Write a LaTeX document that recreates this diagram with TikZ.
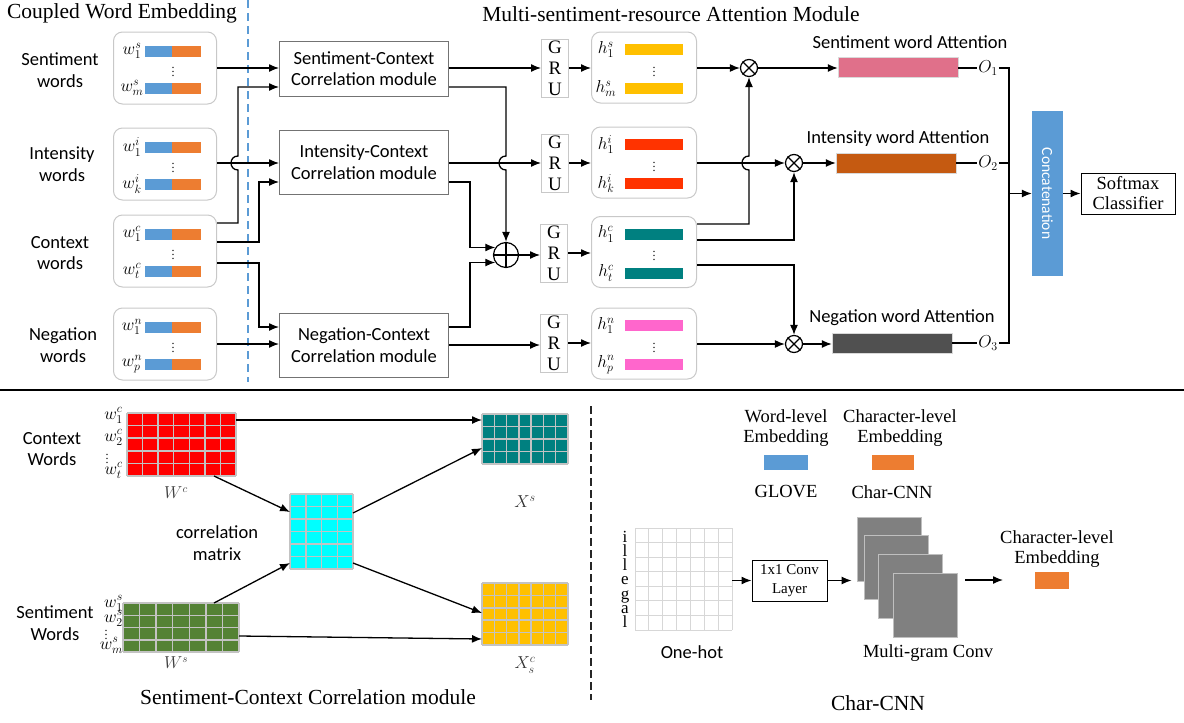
\documentclass[tikz,border=0pt]{standalone}
\usepackage{fontspec}
\setmainfont{Liberation Serif}
\setsansfont{Carlito}
\usetikzlibrary{arrows.meta,calc}
\definecolor{wblue}{RGB}{91,155,213}
\definecolor{worange}{RGB}{237,125,49}
\definecolor{hyellow}{RGB}{255,192,0}
\definecolor{hred}{RGB}{255,51,0}
\definecolor{hteal}{RGB}{0,128,128}
\definecolor{hpink}{RGB}{255,102,204}
\definecolor{apink}{RGB}{224,112,138}
\definecolor{abrown}{RGB}{197,90,17}
\definecolor{agray}{RGB}{80,80,80}
\definecolor{mgreen}{RGB}{84,130,53}
\definecolor{mred}{RGB}{255,0,0}
\definecolor{mcyan}{RGB}{0,255,255}
\definecolor{boxgray}{RGB}{200,200,200}
\definecolor{gridgray}{RGB}{195,195,195}
\definecolor{ohgray}{RGB}{215,215,215}
\definecolor{sqgray}{RGB}{128,128,128}

\newcommand\fsans{\sffamily\fontsize{18.5}{21.5}\selectfont}
\newcommand\fserif{\rmfamily\fontsize{18.5}{20.5}\selectfont}
\newcommand\fcap{\rmfamily\fontsize{21.5}{25}\selectfont}

\tikzset{
 ln/.style={line width=1.3pt, draw=black},
 arr/.style={ln, -{Latex[length=10pt,width=8pt]}},
 embbox/.style={draw=boxgray, line width=1pt, rounded corners=9pt, minimum width=103pt, minimum height=72pt, inner sep=0pt},
 hidbox/.style={draw=boxgray, line width=1pt, rounded corners=9pt, minimum width=105pt, minimum height=71pt, inner sep=0pt},
 mlab/.style={inner sep=0pt, font=\fontsize{17}{17}\selectfont},
 dotlab/.style={inner sep=0pt, font=\fontsize{12}{12}\selectfont},
 modbox/.style={draw=black!55, line width=1pt, minimum width=169pt, align=center, font=\fsans, inner sep=0pt},
 grubox/.style={draw=boxgray, line width=1pt, minimum width=27pt, minimum height=58pt, align=center, font=\rmfamily\fontsize{19}{21}\selectfont, inner sep=0pt},
 sanslab/.style={align=center, font=\fsans, inner sep=0pt},
 seriflab/.style={align=center, font=\fserif, inner sep=0pt},
 caplab/.style={font=\fcap, inner sep=0pt},
 otimesnode/.style={circle, draw, line width=1.2pt, minimum size=17pt, inner sep=0pt},
 attbar/.style={minimum width=120pt, minimum height=20pt, inner sep=0pt, draw=black!15},
 matnode/.style={inner sep=0pt, outer sep=0pt},
 gridln/.style={draw=gridgray, line width=1.5pt},
 ohln/.style={draw=ohgray, line width=1pt},
 wlab/.style={inner sep=0pt, font=\fontsize{18}{18}\selectfont},
 sqnode/.style={fill=sqgray, draw=black!25, line width=0.8pt, minimum width=64pt, minimum height=64pt, inner sep=0pt},
}

\newcommand\embbox[5]{%
  \node[embbox] (#1) at (#2,#3) {};
  \node[mlab] (#1-l1) at (#2-33,#3-17) {$#4$};
  \node[mlab] (#1-l2) at (#2-33,#3+20) {$#5$};
  \fill[wblue] (#2-20,#3-22.5) rectangle (#2+7,#3-11.5);
  \fill[worange] (#2+7,#3-22.5) rectangle (#2+36,#3-11.5);
  \fill[wblue] (#2-20,#3+14.5) rectangle (#2+7,#3+25.5);
  \fill[worange] (#2+7,#3+14.5) rectangle (#2+36,#3+25.5);
  \node[dotlab] (#1-d) at (#2+8,#3+1) {$\vdots$};
}
\newcommand\hidbox[6]{%
  \node[hidbox] (#1) at (#2,#3) {};
  \node[mlab] (#1-l1) at (#2-38,#3-18) {$#4$};
  \node[mlab] (#1-l2) at (#2-38,#3+21) {$#5$};
  \fill[#6] (#2-19,#3-23.5) rectangle (#2+39,#3-12.5);
  \fill[#6] (#2-19,#3+15.5) rectangle (#2+39,#3+26.5);
  \node[dotlab] (#1-d) at (#2+10,#3+1) {$\vdots$};
}
\newcommand\cellgrid[4]{%
  \foreach \i in {0,...,#2}{\draw[#4] ($(#1.north west)!\i/#2!(#1.north east)$) -- ($(#1.south west)!\i/#2!(#1.south east)$);}
  \foreach \j in {0,...,#3}{\draw[#4] ($(#1.north west)!\j/#3!(#1.south west)$) -- ($(#1.north east)!\j/#3!(#1.south east)$);}
}

\begin{document}
\begin{tikzpicture}[x=1pt,y=-1pt]
\useasboundingbox (0,0) rectangle (1184,723);

% ---------- titles ----------
\node[caplab] (t1) at (122,13) {Coupled Word Embedding};
\node[caplab] (t2) at (671,14) {Multi-sentiment-resource Attention Module};
\draw[wblue, line width=1.3pt, dash pattern=on 8pt off 5pt] (248,0) -- (248,382);

% ---------- left labels ----------
\node[sanslab] (lsw) at (60,70) {Sentiment\\words};
\node[sanslab] (liw) at (62,164) {Intensity\\words};
\node[sanslab] (lcw) at (60,253) {Context\\words};
\node[sanslab] (lnw) at (63,345) {Negation\\words};

% ---------- embeddings ----------
\embbox{es}{165}{68}{w_1^s}{w_m^s}
\embbox{ei}{165}{164}{w_1^i}{w_k^i}
\embbox{ec}{165}{251}{w_1^c}{w_t^c}
\embbox{en}{165}{344}{w_1^n}{w_p^n}

% ---------- correlation modules ----------
\node[modbox, minimum height=55pt] (sc) at (364,68.5) {Sentiment-Context\\Correlation module};
\node[modbox, minimum height=64pt] (ic) at (364,162) {Intensity-Context\\Correlation module};
\node[modbox, minimum height=64pt] (nc) at (364,345) {Negation-Context\\Correlation module};

% ---------- GRUs ----------
\node[grubox] (g1) at (555,68) {G\\R\\U};
\node[grubox] (g2) at (555,163) {G\\R\\U};
\node[grubox] (g3) at (554,253) {G\\R\\U};
\node[grubox] (g4) at (554,343) {G\\R\\U};

% ---------- hidden states ----------
\hidbox{hs}{644}{67.5}{h_1^s}{h_m^s}{hyellow}
\hidbox{hi}{644}{162.5}{h_1^i}{h_k^i}{hred}
\hidbox{hc}{644}{252}{h_1^c}{h_t^c}{hteal}
\hidbox{hn}{644}{343.5}{h_1^n}{h_p^n}{hpink}

% ---------- operators ----------
\node[otimesnode, minimum size=25pt] (op) at (506,255) {};
\draw[line width=1.2pt] (op.north) -- (op.south) (op.west) -- (op.east);
\node[otimesnode] (o1) at (749,68) {};
\node[otimesnode] (o2) at (794,163) {};
\node[otimesnode] (o3) at (794,344) {};
\foreach \o in {o1,o2,o3}{\draw[line width=1.2pt] (\o.45) -- (\o.225) (\o.135) -- (\o.315);}

% ---------- attention ----------
\node[attbar, fill=apink] (a1) at (898,67) {};
\node[attbar, fill=abrown] (a2) at (896,163) {};
\node[attbar, fill=agray] (a3) at (892,343) {};
\node[sanslab] (a1t) at (910,42) {Sentiment word Attention};
\node[sanslab] (a2t) at (898,139) {Intensity word Attention};
\node[sanslab] (a3t) at (902,318) {Negation word Attention};
\node[inner sep=1pt, font=\fontsize{17}{17}\selectfont] (O1) at (988,68) {$O_1$};
\node[inner sep=1pt, font=\fontsize{17}{17}\selectfont] (O2) at (988,163) {$O_2$};
\node[inner sep=1pt, font=\fontsize{17}{17}\selectfont] (O3) at (988,343) {$O_3$};
\coordinate (jt) at (1009,68);
\coordinate (jb) at (1009,343);

\node[fill=wblue, minimum width=31pt, minimum height=165pt, inner sep=0pt] (cat) at (1047.5,193.5) {};
\node[rotate=-90, text=white, inner sep=0pt, font=\sffamily\fontsize{15.5}{16}\selectfont] (catt) at (cat.center) {Concatenation};
\node[draw, line width=1pt, minimum width=94pt, minimum height=41pt, align=center, font=\rmfamily\fontsize{18.5}{20}\selectfont, inner sep=0pt] (sm) at (1128,193.5) {Softmax\\Classifier};

% ---------- connectors: embeddings -> modules ----------
\draw[arr] (es.east |- 0,68) -- (sc.west |- 0,68);
\draw[arr] (ec.east |- 0,223) -- (238,223) -- (238,170) .. controls (228.7,170) and (228.7,156) .. (238,156) -- (238,87) -- (sc.west |- 0,87);
\draw[arr] (ei.east |- 0,163) -- (ic.west |- 0,163);
\draw[arr] (ec.east |- 0,242) -- (259,242) -- (259,182) -- (ic.west |- 0,182);
\draw[arr] (ec.east |- 0,263) -- (259,263) -- (259,327) -- (nc.west |- 0,327);
\draw[arr] (en.east |- 0,344) -- (nc.west |- 0,344);

% ---------- modules -> GRU / oplus ----------
\draw[arr] (sc.east |- 0,68) -- (g1.west |- 0,68);
\draw[arr] (sc.east |- 0,87) -- (506,87) -- (506,156) .. controls (496.7,156) and (496.7,170) .. (506,170) -- (op.north);
\draw[arr] (ic.east |- 0,163) -- (g2.west |- 0,163);
\draw[arr] (ic.east |- 0,182) -- (470,182) |- (op.145);
\draw[arr] (nc.east |- 0,327) -- (470,327) |- (op.215);
\draw[arr] (nc.east |- 0,345) -- (g4.west |- 0,345);
\draw[arr] (op.east) -- (g3.west |- op.east);

% ---------- GRU -> hidden ----------
\draw[arr] (g1.east) -- (hs.west |- g1.east);
\draw[arr] (g2.east) -- (hi.west |- g2.east);
\draw[arr] (g3.east) -- (hc.west |- g3.east);
\draw[arr] (g4.east) -- (hn.west |- g4.east);

% ---------- hidden -> otimes ----------
\draw[arr] (hs.east |- o1) -- (o1.west);
\draw[arr] (hc.east |- 0,224) -- (749,224) -- (749,170) .. controls (739.7,170) and (739.7,156) .. (749,156) -- (o1.south);
\draw[arr] (hi.east |- o2) -- (o2.west);
\draw[arr] (hc.east |- 0,240) -- (794,240) -- (o2.south);
\draw[arr] (hc.east |- 0,265) -- (794,265) -- (o3.north);
\draw[arr] (hn.east |- o3) -- (o3.west);

% ---------- otimes -> attention -> concat ----------
\draw[arr] (o1.east) -- (a1.west |- o1);
\draw[arr] (o2.east) -- (a2.west |- o2);
\draw[arr] (o3.east) -- (a3.west |- o3);
\draw[ln] (a1.east |- O1) -- (O1.west);
\draw[ln] (a2.east |- O2) -- (O2.west);
\draw[ln] (a3.east |- O3) -- (O3.west);
\draw[ln] (O1.east) -- (jt) -- (jb) -- (O3.east);
\draw[ln] (O2.east) -- (jt |- O2.east);
\draw[arr] (jt |- cat) -- (cat.west);
\draw[arr] (cat.east) -- (sm.west);

% ---------- divider ----------
\draw[line width=1.3pt] (0,390) -- (1184,390);
\draw[line width=2pt, black!85, dash pattern=on 8pt off 4pt] (591,406) -- (591,700);

% ---------- bottom left ----------
\node[sanslab] (bcw) at (52,449) {Context\\Words};
\node[sanslab] (bsw) at (55,623) {Sentiment\\Words};

\node[matnode, fill=mred, minimum width=109pt, minimum height=63pt] (wc) at (181.5,444.5) {};
\cellgrid{wc}{7}{5}{gridln}
\node[matnode, fill=mgreen, minimum width=116pt, minimum height=49pt] (ws) at (181,627.5) {};
\cellgrid{ws}{7}{4}{gridln}
\node[matnode, fill=mcyan, minimum width=63pt, minimum height=75pt] (cm) at (321.5,531.5) {};
\cellgrid{cm}{4}{6}{gridln}
\node[matnode, fill=hteal, minimum width=86pt, minimum height=50pt] (xs) at (525,439) {};
\cellgrid{xs}{7}{4}{gridln}
\node[matnode, fill=hyellow, minimum width=86pt, minimum height=62pt] (xc) at (525,614) {};
\cellgrid{xc}{7}{5}{gridln}

\node[wlab, anchor=base east] (wc1) at (123,419) {$w_1^c$};
\node[wlab, anchor=base east] (wc2) at (123,441) {$w_2^c$};
\node[dotlab] (wcd) at (107,456) {$\vdots$};
\node[wlab, anchor=base east] (wc3) at (123,474) {$w_t^c$};
\node[wlab, anchor=base east] (ws1) at (123,607) {$w_1^s$};
\node[wlab, anchor=base east] (ws2) at (123,622) {$w_2^s$};
\node[dotlab] (wsd) at (106,632) {$\vdots$};
\node[wlab, anchor=base east] (ws3) at (123,649) {$w_m^s$};

\node[wlab, text=black!75, font=\fontsize{16}{16}\selectfont] (lwc) at (176,493) {$W^c$};
\node[wlab, text=black!75, font=\fontsize{16}{16}\selectfont] (lws) at (176,663) {$W^s$};
\node[wlab, text=black!80] (lxs) at (525,502) {$X^s$};
\node[wlab, text=black!80] (lxc) at (525,665) {$X_s^c$};
\node[sanslab] (corr) at (217,543) {correlation\\matrix};

\draw[arr] (wc.east |- 0,420) -- (xs.west |- 0,420);
\draw[arr] (wc.south -| 214,0) -- (cm.west |- 0,512);
\draw[arr] (ws.north -| 214,0) -- (cm.west |- 0,563);
\draw[arr] (cm.east |- 0,513) -- (xs.west |- 0,448);
\draw[arr] (cm.east |- 0,563) -- (xc.west |- 0,613);
\draw[arr] (ws.east |- 0,636) -- (xc.west |- 0,639);

\node[caplab] (cap1) at (308,697) {Sentiment-Context Correlation module};

% ---------- bottom right ----------
\node[seriflab] (wle) at (786,428) {Word-level\\Embedding};
\node[matnode, fill=wblue, minimum width=44pt, minimum height=15pt] (wlr) at (786,462.5) {};
\node[seriflab] (glove) at (786,492) {GLOVE};
\node[seriflab] (cle) at (900,428) {Character-level\\Embedding};
\node[matnode, fill=worange, minimum width=42pt, minimum height=15pt] (clr) at (893,462.5) {};
\node[seriflab] (ccnn) at (892,492) {Char-CNN};

\node[matnode, fill=white, minimum width=97pt, minimum height=102pt] (oh) at (683.5,579) {};
\cellgrid{oh}{7}{7}{ohln}
\foreach \c [count=\k from 0] in {i,l,l,e,g,a,l}
  \node[anchor=base, inner sep=0pt, font=\rmfamily\fontsize{17}{17}\selectfont] (ill\k) at (625,542+14.3*\k) {\c};
\node[sanslab] (ohl) at (692,652) {One-hot};

\node[draw, line width=1pt, minimum width=75pt, minimum height=41pt, align=center, inner sep=0pt, font=\rmfamily\fontsize{15}{19}\selectfont] (conv) at (789.5,580.5) {1x1 Conv\\Layer};
\draw[arr] (oh.east |- conv) -- (conv.west);

\node[sqnode] (sq1) at (889,549) {};
\node[sqnode] (sq2) at (896,567) {};
\node[sqnode] (sq3) at (910,586) {};
\node[sqnode] (sq4) at (925,605) {};
\draw[arr, shorten >=5pt] (conv.east) -- (conv.east -| sq1.west);
\node[seriflab] (mgc) at (928,653) {Multi-gram Conv};

\coordinate (cs0) at (965,580);
\coordinate (cs1) at (1003,580);
\draw[arr] (cs0) -- (cs1);
\node[seriflab] (cle2) at (1057,549) {Character-level\\Embedding};
\node[matnode, fill=worange, minimum width=34pt, minimum height=17pt] (cer) at (1052,580.5) {};

\node[caplab] (cap2) at (878,703) {Char-CNN};
\end{tikzpicture}
\end{document}
